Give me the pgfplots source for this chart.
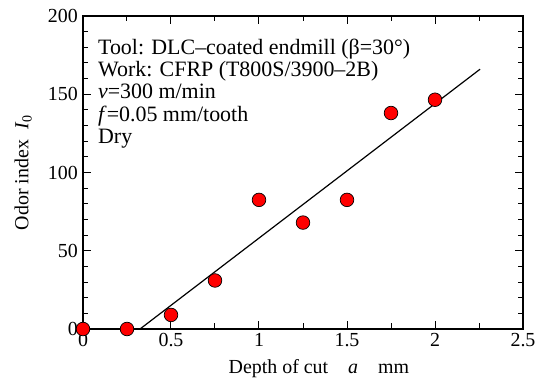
\documentclass[border=0pt]{standalone}
\usepackage{pgfplots}
\pgfplotsset{compat=1.18}
\usepackage{fontspec}
\setmainfont{Liberation Serif}
\begin{document}
\begin{tikzpicture}
\begin{axis}[
  name=ax, at={(0,0)}, anchor=south west,
  scale only axis, width=440bp, height=313bp,
  xmin=0, xmax=2.5, ymin=0, ymax=200,
  xtick={0,0.5,...,2.5}, minor xtick={0.25,0.75,...,2.25},
  ytick={0,50,...,200}, minor ytick={10,20,...,190},
  tick align=inside, tick pos=both,
  major tick length=8bp, minor tick length=5.5bp,
  every tick/.style={line width=1bp, black},
  axis line style={line width=1.5bp},
  /pgf/number format/assume math mode=true,
  ticklabel style={font=\fontsize{20}{22}\selectfont},
  xticklabel style={yshift=-3bp, inner sep=1bp},
  yticklabel style={inner sep=1bp, xshift=-4bp},
  xticklabels={0,0.5,1,1.5,2,2.5},
  yticklabels={0,50,100,150,200},
  xlabel={Depth of cut\hspace{1em}\textit{a}\hspace{1em}mm},
  xlabel style={font=\fontsize{20}{22}\selectfont, at={(axis description cs:0.536,0)}, anchor=north, yshift=-27bp},
  ylabel={Odor index\hspace{0.5em}\textit{I}\textsubscript{0}},
  ylabel style={font=\fontsize{20}{22}\selectfont, at={(axis description cs:-0.136,0.5)}, anchor=center, rotate=0},
  clip=false,
]
\addplot[black, line width=1.2bp, no marks] coordinates {(0.324,0) (2.256,166)};
\addplot[only marks, mark=*, mark size=6.8bp, mark options={fill=red, draw=black, line width=0.7bp}]
coordinates {(0,0) (0.25,0) (0.5,9) (0.75,31) (1.0,82.5) (1.25,68) (1.5,82.5) (1.75,138) (2.0,146.5)};
\node[anchor=north west, align=left, inner sep=0pt, font=\fontsize{22}{22.4}\selectfont]
  at (axis description cs:0.034,0.928)
  {Tool: DLC--coated endmill (β=30°)\\
   Work: CFRP (T800S/3900--2B)\\
   \textit{v}=300 m/min\\
   \textit{f}=0.05 mm/tooth\\
   Dry};
\end{axis}
\pgfresetboundingbox
\path (-83bp,-53bp) rectangle (459bp,329bp);
\end{tikzpicture}
\end{document}
